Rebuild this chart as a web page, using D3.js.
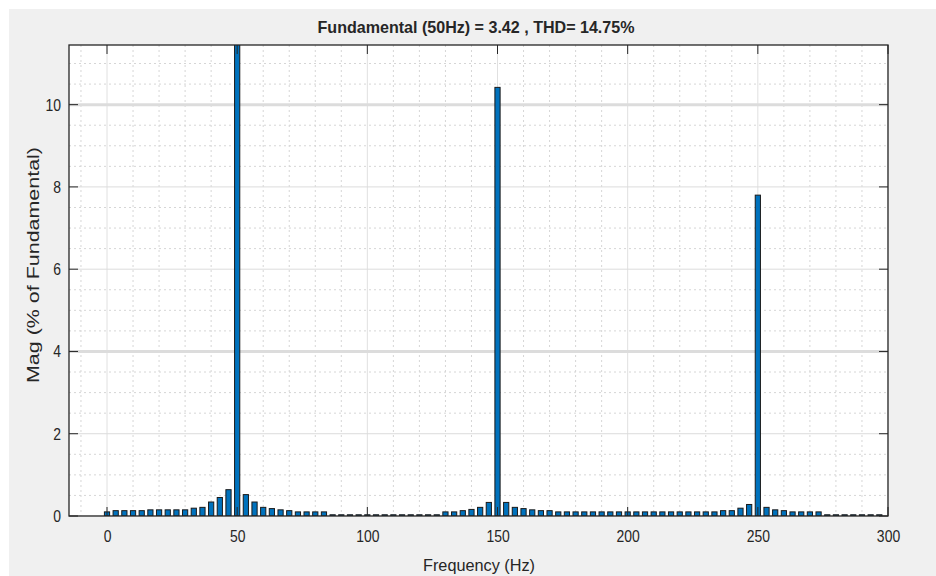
<!DOCTYPE html>
<html>
<head>
  <meta charset="utf-8">
  <script src="https://cdn.jsdelivr.net/npm/d3@7/dist/d3.min.js"></script>
  <style>
    body { margin: 0; background: #fff; }
    text { font-family: "Liberation Sans", Arial, sans-serif; fill: #262626; }
  </style>
</head>
<body>
  <svg id="chart" width="936" height="576"></svg>
  <script>
    // FFT bins every 10/3 Hz (0 .. 296.7 Hz), magnitude in % of fundamental
    const binStep = 10 / 3;
    const magnitudes = [
      0.10, 0.13, 0.13, 0.13, 0.13, 0.15, 0.15, 0.15, 0.15, 0.15,
      0.19, 0.21, 0.34, 0.45, 0.64, 100, 0.52, 0.34, 0.21, 0.18,
      0.15, 0.13, 0.10, 0.10, 0.10, 0.10, 0.03, 0.03, 0.03, 0.03,
      0.03, 0.03, 0.03, 0.03, 0.03, 0.03, 0.03, 0.03, 0.03, 0.10,
      0.10, 0.13, 0.16, 0.21, 0.33, 10.42, 0.33, 0.21, 0.18, 0.15,
      0.13, 0.13, 0.10, 0.10, 0.10, 0.10, 0.10, 0.10, 0.10, 0.10,
      0.10, 0.10, 0.10, 0.10, 0.10, 0.10, 0.10, 0.10, 0.10, 0.10,
      0.10, 0.13, 0.13, 0.19, 0.28, 7.80, 0.21, 0.15, 0.13, 0.10,
      0.10, 0.10, 0.10, 0.03, 0.03, 0.03, 0.03, 0.03, 0.03, 0.03
    ];
    const xTicks = [0, 50, 100, 150, 200, 250, 300];
    const yTicks = [0, 2, 4, 6, 8, 10];
    const titleText = 'Fundamental (50Hz) = 3.42 , THD= 14.75%';

    const bins = magnitudes.map((m, i) => ({ f: i * binStep, m: m }));

    const svg = d3.select('#chart');
    const pL = 69, pT = 45, pR = 888, pB = 516;

    // figure background
    svg.append('rect').attr('x', 9).attr('y', 9).attr('width', 927).attr('height', 567).attr('fill', '#f0f0f0');

    const x = d3.scaleLinear().domain([-14.6, 300]).range([pL, pR]);
    const y = d3.scaleLinear().domain([0, 11.45]).range([pB, pT]);

    svg.append('rect').attr('x', pL).attr('y', pT).attr('width', pR - pL).attr('height', pB - pT).attr('fill', '#fff');

    const clip = svg.append('clipPath').attr('id', 'clip');
    clip.append('rect').attr('x', pL).attr('y', pT).attr('width', pR - pL).attr('height', pB - pT);

    const grid = svg.append('g').attr('clip-path', 'url(#clip)');

    // minor grid
    grid.selectAll('.mx').data(d3.range(-10, 301, 10).filter(v => v % 50 !== 0))
      .join('line')
      .attr('x1', d => x(d)).attr('x2', d => x(d)).attr('y1', pT).attr('y2', pB)
      .attr('stroke', '#d6d6d6').attr('stroke-dasharray', '2,3');
    grid.selectAll('.my').data(d3.range(0.5, 11.5, 0.5).filter(v => v % 2 !== 0))
      .join('line')
      .attr('x1', pL).attr('x2', pR).attr('y1', d => y(d)).attr('y2', d => y(d))
      .attr('stroke', '#d6d6d6').attr('stroke-dasharray', '2,3');

    // major grid
    grid.selectAll('.gx').data(xTicks)
      .join('line')
      .attr('x1', d => x(d)).attr('x2', d => x(d)).attr('y1', pT).attr('y2', pB)
      .attr('stroke', '#e0e0e0');
    grid.selectAll('.gy').data(yTicks)
      .join('line')
      .attr('x1', pL).attr('x2', pR).attr('y1', d => y(d)).attr('y2', d => y(d))
      .attr('stroke', '#dcdcdc')
      .attr('stroke-width', d => (d === 10 || d === 4) ? 3 : 1);

    // bars
    const barW = x(2) - x(0);
    grid.selectAll('.bar').data(bins)
      .join('rect')
      .attr('x', d => x(d.f) - barW / 2)
      .attr('y', d => y(d.m))
      .attr('width', barW)
      .attr('height', d => y(0) - y(d.m))
      .attr('fill', '#0072bd')
      .attr('stroke', '#1a1a1a')
      .attr('stroke-width', 1);

    // axes (box with inward ticks)
    const tl = 9;
    function squeeze(sel) {
      // tick labels in the picture are condensed
      sel.attr('font-size', 17).attr('fill', '#404040')
        .each(function () {
          const w = this.getComputedTextLength();
          d3.select(this).attr('textLength', w * 0.82).attr('lengthAdjust', 'spacingAndGlyphs');
        });
    }
    const axX = d3.axisBottom(x).tickValues(xTicks).tickSize(0).tickPadding(14);
    const gx = svg.append('g').attr('transform', `translate(0,${pB})`).call(axX);
    gx.select('.domain').remove();
    gx.selectAll('text').call(squeeze);

    const axY = d3.axisLeft(y).tickValues(yTicks).tickSize(0).tickPadding(8);
    const gy = svg.append('g').attr('transform', `translate(${pL},0)`).call(axY);
    gy.select('.domain').remove();
    gy.selectAll('text').call(squeeze);

    const ticks = svg.append('g').attr('stroke', '#262626').attr('stroke-width', 1);
    xTicks.forEach(v => {
      ticks.append('line').attr('x1', x(v)).attr('x2', x(v)).attr('y1', pB).attr('y2', pB - tl);
      ticks.append('line').attr('x1', x(v)).attr('x2', x(v)).attr('y1', pT).attr('y2', pT + tl);
    });
    yTicks.forEach(v => {
      ticks.append('line').attr('x1', pL).attr('x2', pL + tl).attr('y1', y(v)).attr('y2', y(v));
      ticks.append('line').attr('x1', pR).attr('x2', pR - tl).attr('y1', y(v)).attr('y2', y(v));
    });

    svg.append('rect').attr('x', pL).attr('y', pT).attr('width', pR - pL).attr('height', pB - pT)
      .attr('fill', 'none').attr('stroke', '#262626').attr('stroke-width', 1.3);

    // labels
    svg.append('text').attr('x', 476).attr('y', 33).attr('text-anchor', 'middle')
      .attr('font-size', 17).attr('font-weight', 'bold').attr('fill', '#111')
      .attr('textLength', 317).attr('lengthAdjust', 'spacingAndGlyphs')
      .text(titleText);

    svg.append('text').attr('x', 479).attr('y', 571).attr('text-anchor', 'middle')
      .attr('font-size', 17).attr('fill', '#404040')
      .attr('textLength', 112).attr('lengthAdjust', 'spacingAndGlyphs')
      .text('Frequency (Hz)');

    svg.append('text').attr('transform', 'translate(39,265) rotate(-90)').attr('text-anchor', 'middle')
      .attr('font-size', 17).attr('fill', '#404040')
      .attr('textLength', 236).attr('lengthAdjust', 'spacingAndGlyphs')
      .text('Mag  (% of Fundamental)');
  </script>
</body>
</html>
